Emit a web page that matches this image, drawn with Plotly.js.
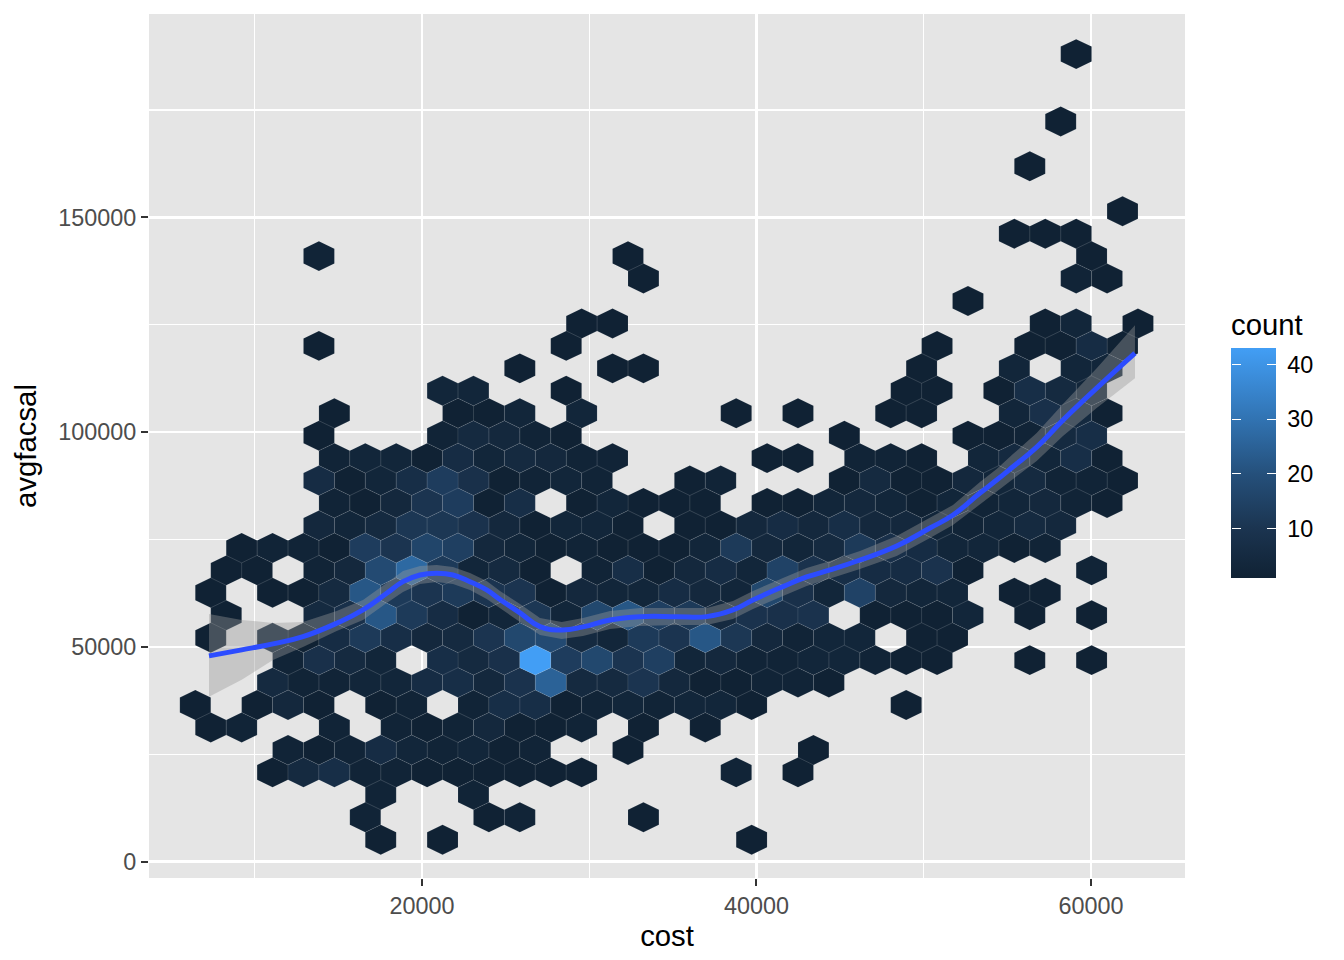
<!DOCTYPE html>
<html>
<head>
<meta charset="utf-8">
<script src="https://cdn.plot.ly/plotly-3.0.1.min.js"></script>
<style>html,body{margin:0;padding:0;background:#fff}#chart{width:1344px;height:960px}</style>
</head>
<body>
<div id="chart"></div>
<script>
// Hexagon bin centres
const costBins = [6445,7369,8293,9217,10141,11065,11989,12913,13837,14761,15685,16609,17533,18457,19381,20305,21229,22153,23077,24001,24925,25849,26773,27697,28621,29545,30469,31393,32317,33241,34165,35089,36013,36937,37861,38785,39709,40633,41557,42481,43405,44329,45253,46177,47101,48025,48949,49873,50797,51721,52645,53569,54493,55417,56341,57265,58189,59113,60037,60961,61885,62809];
const salaryBins = [5116,10341,15566,20791,26016,31241,36466,41691,46916,52141,57366,62591,67816,73041,78266,83491,88716,93941,99166,104391,109616,114841,120066,125291,130516,135741,140966,146191,151416,156641,161866,167091,172316,177541,182766,187991];

// count per salary bin: {costBinIndex: count}
const countsBySalaryBin = [
 {12:1,16:1,36:1},
 {11:2,19:1,21:2,29:1},
 {12:2,18:2},
 {5:1,7:5,9:7,11:2,13:2,15:1,17:1,19:1,21:1,23:1,25:1,35:2,39:1},
 {6:2,8:1,10:2,12:6,14:3,16:2,18:3,20:1,22:2,28:1,40:1},
 {1:1,3:2,9:2,13:2,15:1,17:2,19:4,21:1,23:1,25:2,29:1,33:1},
 {0:1,4:1,6:4,8:1,12:1,14:2,18:2,20:7,22:7,24:1,26:2,28:3,30:2,32:3,34:3,36:1,46:1},
 {5:5,7:2,9:2,11:3,13:3,15:6,17:7,19:4,21:9,23:25,25:5,27:5,29:10,31:4,33:1,35:1,37:2,39:2,41:1},
 {6:2,8:8,10:5,12:3,16:7,18:5,20:8,22:43,24:13,26:17,28:10,30:14,32:3,34:4,36:2,38:2,40:3,42:3,44:2,46:1,48:1,54:1,58:1},
 {1:1,5:3,7:1,9:6,11:12,13:7,15:4,17:5,19:10,21:17,23:18,25:5,27:3,29:12,31:10,33:22,35:11,37:4,39:2,41:3,43:3,47:1,49:1},
 {2:1,8:5,10:8,12:22,14:12,16:6,18:1,20:3,22:11,24:3,26:17,28:22,30:14,32:12,34:5,36:9,38:8,40:9,44:1,46:1,48:1,50:3,54:1,58:1},
 {1:1,5:1,7:1,9:5,11:22,13:12,15:10,17:12,19:10,21:10,23:1,25:4,27:3,29:3,31:6,33:4,35:3,37:17,39:8,41:3,43:15,45:4,47:3,49:3,53:1,55:1},
 {2:1,4:1,8:2,10:4,12:18,14:27,16:12,18:3,20:5,22:1,26:2,28:7,30:1,32:4,34:6,36:3,38:15,40:9,42:7,44:6,46:6,48:9,50:1,58:2},
 {3:1,5:2,7:2,9:1,11:13,13:10,15:16,17:14,19:4,21:3,23:1,25:2,27:1,29:1,31:1,33:3,35:12,37:4,39:3,41:5,43:12,45:8,47:6,49:3,51:3,53:1,55:2},
 {8:4,10:3,12:5,14:11,16:11,18:9,20:4,22:1,24:3,26:3,28:1,32:1,34:1,36:4,38:6,40:4,42:7,44:4,46:4,48:3,50:2,52:3,54:5,56:4},
 {9:2,11:1,13:4,15:10,17:13,19:1,21:7,25:1,27:3,29:1,31:1,33:1,37:1,39:1,41:3,43:4,45:3,47:1,49:3,51:2,53:3,55:4,57:2,59:1},
 {8:6,10:1,12:3,14:7,16:13,18:8,20:1,22:2,24:3,26:2,32:1,34:2,42:1,44:5,46:1,48:1,50:4,52:3,54:5,56:2,58:2,60:1},
 {9:2,11:3,13:3,15:1,17:6,19:3,21:5,23:4,25:2,27:2,37:1,39:1,43:2,45:2,47:1,51:3,53:5,55:3,57:7,59:1},
 {8:1,16:2,18:5,20:4,22:2,24:1,42:1,50:1,52:1,54:2,56:5,58:7},
 {9:1,17:1,19:1,21:3,25:3,35:1,39:1,45:1,47:1,53:3,55:8,57:5,59:1},
 {16:3,18:3,24:1,46:1,48:1,52:1,54:7,56:5,58:3},
 {21:1,27:1,29:1,47:1,53:3,57:3,59:3},
 {8:1,24:1,48:1,54:1,56:1,58:6,60:1},
 {25:1,27:1,55:1,57:3,61:1},
 {50:1},
 {29:1,57:2,59:1},
 {8:2,28:1,58:1},
 {53:1,55:1,57:1},
 {60:1},
 {},
 {54:1},
 {},
 {56:1},
 {},
 {},
 {57:1}
];

// Smoother fit and its confidence band
const fitCost = [7265,9220,11091,12885,14900,16472,17889,18864,19880,20879,21853,22870,23868,24664,25859,27055,28353,29626,31241,33034,35228,37022,38595,39790,41584,43001,44394,46188,48382,50373,51748,53363,54361,55336,56753,58325,60340,62630];
const fitSalary = [47907,49303,50698,52396,55512,58605,62489,65187,66745,67140,66745,65187,63256,61047,57907,54722,53954,54652,56280,57047,57047,57047,58605,60931,64024,66280,67908,70233,73489,77675,80698,85815,88838,91931,96512,102792,110233,118373];
const fitUpper = [57675,56280,55582,55814,58373,60931,64884,67675,68838,69070,68605,67210,65349,63024,60000,56745,55814,56745,58373,59070,59070,59070,60698,63024,66047,68373,70000,72326,75815,80000,83024,88373,91396,94884,99768,106512,114885,124885];
const fitLower = [38372,42326,46977,50000,53721,56280,60233,62791,64652,65117,64652,63256,61163,59070,55814,52791,51861,52559,54186,54884,55117,55117,56512,58838,61861,64187,65814,68140,71163,75349,78373,83256,86280,89070,93256,99070,105582,112559];

// Axis ticks
const xMajor = [20000,40000,60000];
const xMinor = [10000,30000,50000];
const yMajor = [0,50000,100000,150000];
const yMinor = [25000,75000,125000,175000];
const legendTicks = [10,20,30,40];

const countMin = 1, countMax = 43;
const colourStops = [
  [1,[16,34,52]],[10,[27,52,80]],[20,[37,80,123]],[30,[49,115,178]],[43,[66,158,245]]
];
function colourFor(n){
  for(let i=1;i<colourStops.length;i++){
    const [a,ca]=colourStops[i-1],[b,cb]=colourStops[i];
    if(n<=b){const t=(n-a)/(b-a);
      return 'rgb('+ca.map((v,k)=>Math.round(v+(cb[k]-v)*t)).join(',')+')';}
  }
}
const colourscale = colourStops.map(([n])=>[(n-countMin)/(countMax-countMin),colourFor(n)]);

// half extents of a hexagon, one cost step and 2/3 of a salary step
const hexHalfW = costBins[1]-costBins[0];
const hexR = (salaryBins[1]-salaryBins[0])*2/3;

const groups = {};
const allX=[],allY=[],allC=[];
countsBySalaryBin.forEach((row,r)=>{
  Object.keys(row).forEach(k=>{
    const n=row[k],cx=costBins[+k],cy=salaryBins[r];
    const g=groups[n]||(groups[n]={x:[],y:[]});
    g.x.push(cx-hexHalfW,cx-hexHalfW,cx,cx+hexHalfW,cx+hexHalfW,cx,cx-hexHalfW,null);
    g.y.push(cy-hexR/2,cy+hexR/2,cy+hexR,cy+hexR/2,cy-hexR/2,cy-hexR,cy-hexR/2,null);
    allX.push(cx);allY.push(cy);allC.push(n);
  });
});

const traces = Object.keys(groups).map(Number).sort((a,b)=>a-b).map(n=>({
  type:'scatter',mode:'lines',x:groups[n].x,y:groups[n].y,fill:'toself',
  fillcolor:colourFor(n),line:{color:'rgba(255,255,255,0.17)',width:0.5},
  hoverinfo:'skip',showlegend:false
}));

// Confidence band
traces.push({type:'scatter',mode:'lines',
  x:fitCost.concat(fitCost.slice().reverse()),
  y:fitUpper.concat(fitLower.slice().reverse()),
  fill:'toself',fillcolor:'rgba(153,153,153,0.4)',line:{width:0,color:'rgba(0,0,0,0)',shape:'linear'},
  hoverinfo:'skip',showlegend:false});
// Fit
traces.push({type:'scatter',mode:'lines',x:fitCost,y:fitSalary,
  line:{color:'#2C4CFF',width:5,shape:'spline',smoothing:1.3},hoverinfo:'skip',showlegend:false});

const barBottom=578, barTop=348, plotTop=14, plotBottom=878, plotLeft=149, plotRight=1185;
const titleRoom=38;
const cbBase={thickness:45,thicknessmode:'pixels',len:barBottom-barTop,lenmode:'pixels',
  x:(1231-plotLeft)/(plotRight-plotLeft),xanchor:'left',xpad:0,ypad:0,
  y:(plotBottom-barBottom)/(plotBottom-plotTop),yanchor:'bottom',
  tickmode:'array',tickvals:legendTicks,ticktext:legendTicks.map(String),outlinewidth:0};
function keyTrace(cb){
  return {type:'scatter',mode:'markers',x:allX,y:allY,hoverinfo:'skip',showlegend:false,
    marker:{size:1,opacity:0,color:allC,cmin:countMin,cmax:countMax,colorscale:colourscale,showscale:true,
      colorbar:Object.assign({},cbBase,cb)}};
}
// Colour key with labels and title
traces.push(keyTrace({len:barBottom-barTop+titleRoom,
  ticks:'outside',ticklen:7,tickwidth:1,tickcolor:'rgba(0,0,0,0)',
  tickfont:{family:'Liberation Sans, Arial, sans-serif',size:23.4,color:'#000'},
  title:{text:'count',side:'top',font:{family:'Liberation Sans, Arial, sans-serif',size:29.3,color:'#000'}}}));
// Right-hand tick marks of the colour key
traces.push(keyTrace({ticks:'inside',ticklen:9,tickwidth:1,tickcolor:'#fff',showticklabels:false}));
// Left-hand tick marks of the colour key
traces.push(keyTrace({thickness:1,ticks:'outside',ticklen:9,tickwidth:1,tickcolor:'#fff',showticklabels:false}));

const axisFont={family:'Liberation Sans, Arial, sans-serif',size:23.4,color:'#4D4D4D'};
const titleFont={family:'Liberation Sans, Arial, sans-serif',size:29.3,color:'#000'};
const layout={
  width:1344,height:960,paper_bgcolor:'#fff',plot_bgcolor:'#E5E5E5',showlegend:false,
  margin:{l:plotLeft,r:1344-plotRight,t:plotTop,b:960-plotBottom,pad:0,autoexpand:false},
  xaxis:{range:[3677,65621],tickmode:'array',tickvals:xMajor,ticktext:xMajor.map(String),
    showgrid:true,gridcolor:'#fff',gridwidth:2.7,zeroline:false,showline:false,
    ticks:'outside',ticklen:7,tickwidth:2,tickcolor:'#333',tickfont:axisFont,
    minor:{tickmode:'array',tickvals:xMinor,showgrid:true,gridcolor:'#fff',gridwidth:1.4,ticks:''},
    title:{text:'cost',font:titleFont,standoff:7}},
  yaxis:{range:[-3794,197323],tickmode:'array',tickvals:yMajor,ticktext:yMajor.map(String),
    showgrid:true,gridcolor:'#fff',gridwidth:2.7,zeroline:false,showline:false,
    ticks:'outside',ticklen:7,tickwidth:2,tickcolor:'#333',tickfont:axisFont,
    minor:{tickmode:'array',tickvals:yMinor,showgrid:true,gridcolor:'#fff',gridwidth:1.4,ticks:''},
    title:{text:'avgfacsal',font:titleFont,standoff:13}}
};
Plotly.newPlot('chart',traces,layout,{displayModeBar:false,staticPlot:true});
</script>
</body>
</html>
